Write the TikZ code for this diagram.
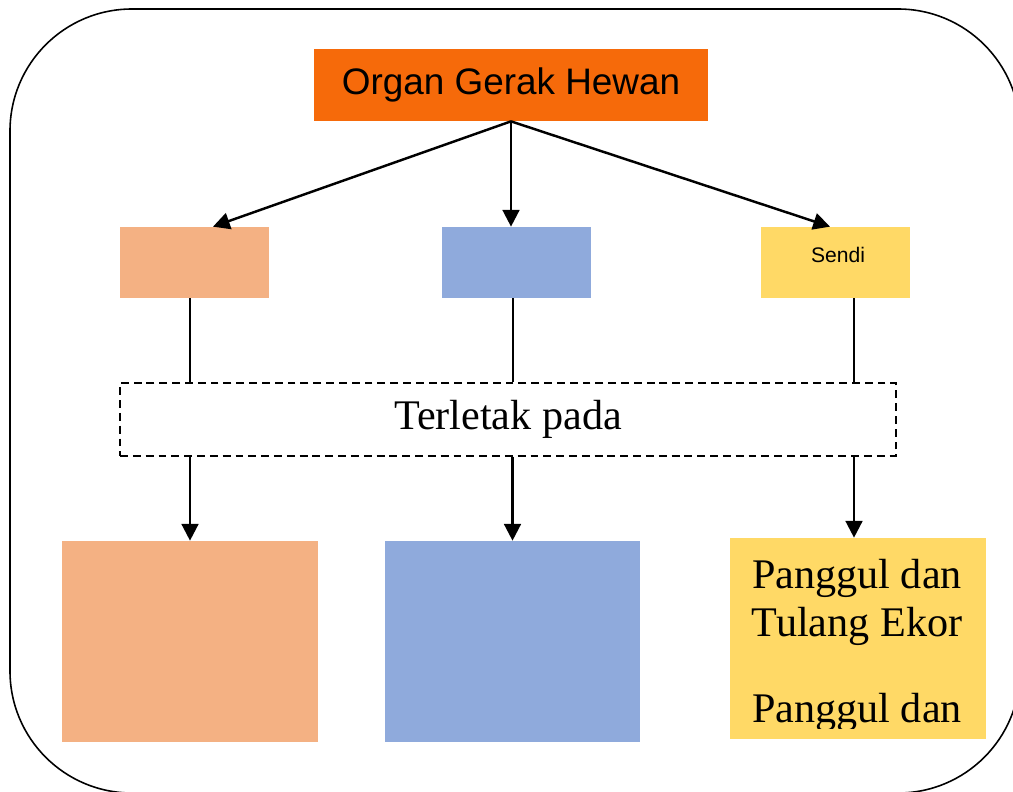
\documentclass[tikz,border=0pt]{standalone}
\usepackage{fontspec}
\setmainfont{Liberation Serif}
\newfontfamily\boxfont{Liberation Sans}
\usetikzlibrary{arrows.meta}

\definecolor{organOrange}{HTML}{F66A0A}
\definecolor{peach}{HTML}{F4B183}
\definecolor{softBlue}{HTML}{8FAADC}
\definecolor{softYellow}{HTML}{FFD966}

\begin{document}
\begin{tikzpicture}[%%
  x=0.02cm,y=-0.02cm,
  boxStyle/.style={inner sep=0pt,minimum width=2.98cm,minimum height=1.42cm},
  bigBoxStyle/.style={inner sep=0pt,minimum width=5.12cm,minimum height=4.02cm},
  arrowStyle/.style={-{Triangle[width=9.5pt,length=9.5pt]},line width=1.4pt},
  thinStyle/.style={-,line width=0.6pt},
  dashStyle/.style={draw,dash pattern=on 4.5pt off 2.8pt,line width=0.8pt,
    inner sep=0pt,minimum width=15.52cm,minimum height=1.46cm}
]
%%
%% The page and the frame round it.
\useasboundingbox (0,0) rectangle (1013,791);
\draw[line width=0.9pt,rounded corners=2.44cm] (10,9) rectangle (1020,793);
%%
%% The top box.
\node[fill=organOrange,inner sep=0pt,minimum width=7.88cm,minimum height=1.44cm,
  font=\boxfont\fontsize{21}{25}\selectfont] (organ) at (511,85) {Organ Gerak Hewan};
%%
%% The three kinds of organ.
\node[boxStyle,fill=peach] (kiri) at (194.5,262.5) {};
\node[boxStyle,fill=softBlue] (tengah) at (516.5,262.5) {};
\node[boxStyle,fill=softYellow] (sendi) at (835.5,262.5) {};
\node[font=\boxfont\fontsize{12}{14}\selectfont,inner sep=0pt] (teksSendi)
  at (838,255) {Sendi};
%%
%% Where they are found.
\node[dashStyle,font=\fontsize{24}{28}\selectfont] (letak) at (508,419.5) {Terletak pada};
\node[bigBoxStyle,fill=peach] (letakKiri) at (190,641.5) {};
\node[bigBoxStyle,fill=softBlue] (letakTengah) at (512.5,641.5) {};
\node[bigBoxStyle,fill=softYellow] (letakSendi) at (858,638.5) {};
\begin{scope}
  \clip (letakSendi.north west) rectangle (986,728);
  \node[anchor=north,inner sep=0pt,align=center,
    font=\fontsize{24}{27}\selectfont] (teksLetak) at (857,559)
    {Panggul dan\\Tulang Ekor\\[22pt]Panggul dan};
\end{scope}
%%
%% Arrows from the top box.
\draw[arrowStyle] (organ.south) -- ([xshift=0.37cm]kiri.north);
\draw[arrowStyle] (organ.south) -- (organ.south |- tengah.north);
\draw[arrowStyle] (organ.south) -- ([xshift=-0.11cm]sendi.north);
%%
%% Lines down to the dashed box.
\draw[thinStyle] ([xshift=-0.09cm]kiri.south) -- ([xshift=-0.09cm]kiri.south |- letak.north);
\draw[thinStyle] ([xshift=-0.07cm]tengah.south) -- ([xshift=-0.07cm]tengah.south |- letak.north);
\draw[thinStyle] ([xshift=0.37cm]sendi.south) -- ([xshift=0.37cm]sendi.south |- letak.north);
%%
%% Arrows down to the lower boxes.
\draw[arrowStyle] (letakKiri.north |- letak.south) -- (letakKiri.north);
\draw[arrowStyle] (letakTengah.north |- letak.south) -- (letakTengah.north);
\draw[arrowStyle] ([xshift=-0.08cm]letakSendi.north |- letak.south) -- ([xshift=-0.08cm]letakSendi.north);
\end{tikzpicture}
\end{document}
